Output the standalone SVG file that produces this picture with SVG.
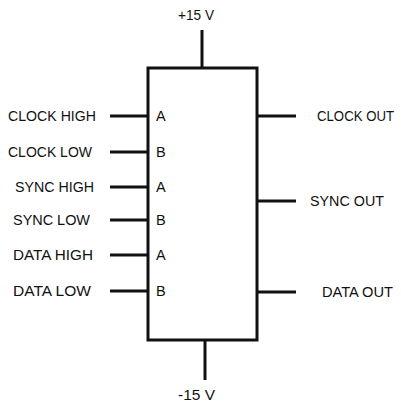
<svg xmlns="http://www.w3.org/2000/svg" width="401" height="409" viewBox="0 0 401 409">
<style>
text{font-family:"Liberation Sans","DejaVu Sans",sans-serif;font-size:14.5px;fill:#111}
.w{stroke:#111;stroke-width:3;fill:none}
</style>
<rect width="401" height="409" fill="#fff"/>
<g id="connectors">
<line class="w" x1="202" y1="30" x2="202" y2="68"/>
<line class="w" x1="205" y1="340" x2="205" y2="380"/>
<line class="w" x1="110" y1="116" x2="148" y2="116"/>
<line class="w" x1="110" y1="152" x2="148" y2="152"/>
<line class="w" x1="110" y1="187" x2="148" y2="187"/>
<line class="w" x1="110" y1="220" x2="148" y2="220"/>
<line class="w" x1="110" y1="255" x2="148" y2="255"/>
<line class="w" x1="110" y1="291" x2="148" y2="291"/>
<line class="w" x1="257" y1="116" x2="296" y2="116"/>
<line class="w" x1="257" y1="201" x2="296" y2="201"/>
<line class="w" x1="257" y1="292" x2="296" y2="292"/>
</g>
<g id="chip">
<rect class="w" x="148" y="68" width="109" height="272"/>
<text x="156" y="121">A</text>
<text x="156" y="157">B</text>
<text x="156" y="192">A</text>
<text x="156" y="225">B</text>
<text x="156" y="260">A</text>
<text x="156" y="296">B</text>
</g>
<g id="vplus"><text x="178" y="20" textLength="36" lengthAdjust="spacingAndGlyphs">+15 V</text></g>
<g id="vminus"><text x="178" y="400" textLength="37" lengthAdjust="spacingAndGlyphs">-15 V</text></g>
<g id="in-clock-high"><text x="8" y="121" textLength="88" lengthAdjust="spacingAndGlyphs">CLOCK HIGH</text></g>
<g id="in-clock-low"><text x="8" y="157" textLength="84" lengthAdjust="spacingAndGlyphs">CLOCK LOW</text></g>
<g id="in-sync-high"><text x="15" y="192" textLength="79" lengthAdjust="spacingAndGlyphs">SYNC HIGH</text></g>
<g id="in-sync-low"><text x="13" y="225" textLength="77" lengthAdjust="spacingAndGlyphs">SYNC LOW</text></g>
<g id="in-data-high"><text x="13" y="260" textLength="80" lengthAdjust="spacingAndGlyphs">DATA HIGH</text></g>
<g id="in-data-low"><text x="13" y="296" textLength="78" lengthAdjust="spacingAndGlyphs">DATA LOW</text></g>
<g id="out-clock"><text x="317" y="121" textLength="77" lengthAdjust="spacingAndGlyphs">CLOCK OUT</text></g>
<g id="out-sync"><text x="310" y="206" textLength="74" lengthAdjust="spacingAndGlyphs">SYNC OUT</text></g>
<g id="out-data"><text x="322" y="297" textLength="71" lengthAdjust="spacingAndGlyphs">DATA OUT</text></g>
</svg>
